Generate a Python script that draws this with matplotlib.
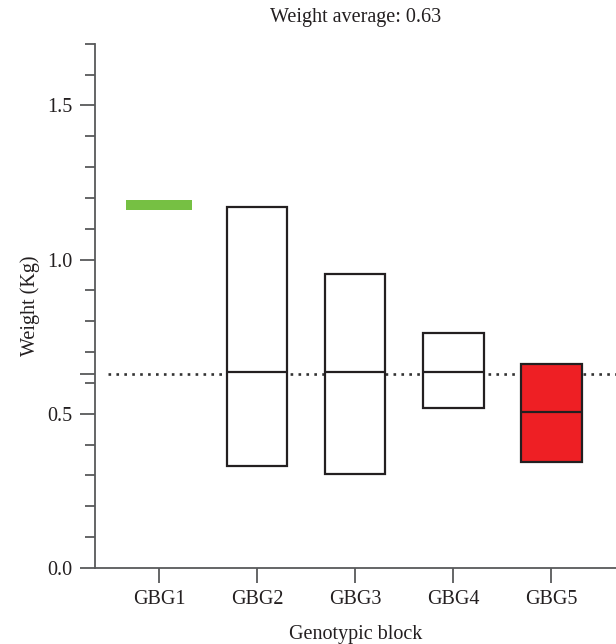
import numpy as np
import matplotlib
matplotlib.use("Agg")
import matplotlib.pyplot as plt
from matplotlib.ticker import MultipleLocator, FixedLocator, FixedFormatter

# Weight range per genotypic block (Kg)
blocks = ["GBG1", "GBG2", "GBG3", "GBG4", "GBG5"]
low = [1.160, 0.330, 0.305, 0.520, 0.345]
high = [1.195, 1.172, 0.955, 0.762, 0.662]
middle = [1.178, 0.635, 0.635, 0.635, 0.505]
weight_average = 0.63

face_colors = ["#76c043", "white", "white", "white", "#ee1f24"]
edge_colors = ["none", "#231f20", "#231f20", "#231f20", "#231f20"]
mid_colors = ["#76c043", "#231f20", "#231f20", "#231f20", "#231f20"]
widths = [0.67, 0.62, 0.62, 0.62, 0.62]

plt.rcParams["font.family"] = ["Liberation Serif", "DejaVu Serif"]
text_color = "#231f20"
spine_color = "#58595b"

fig = plt.figure(figsize=(6.16, 6.44), dpi=100)
ax = fig.add_axes([0.154, 0.118, 0.846, 0.814])

x = np.arange(1, len(blocks) + 1)
lows = np.array(low)
highs = np.array(high)

ax.bar(x, highs - lows, bottom=lows, width=widths, color=face_colors,
       edgecolor=edge_colors, linewidth=1.6, zorder=3)
for xi, m, w, c in zip(x, middle, widths, mid_colors):
    ax.hlines(m, xi - w / 2, xi + w / 2, color=c, linewidth=1.6, zorder=4)

ax.axhline(weight_average, xmin=0.025, xmax=1.0, color="#333333",
           linewidth=1.9, linestyle=(0, (1, 2.0)), zorder=2)

ax.set_xlim(0.347, 5.66)
ax.set_ylim(0, 1.7)

ax.spines["top"].set_visible(False)
ax.spines["right"].set_visible(False)
for s in ("left", "bottom"):
    ax.spines[s].set_color(spine_color)
    ax.spines[s].set_linewidth(1.3)

ax.set_xticks(x)
ax.set_xticklabels(blocks)

major = [0.0, 0.5, weight_average, 1.0, 1.5]
ax.yaxis.set_major_locator(FixedLocator(major))
ax.yaxis.set_major_formatter(FixedFormatter(["0.0", "0.5", "", "1.0", "1.5"]))
ax.yaxis.set_minor_locator(MultipleLocator(0.1))

ax.tick_params(axis="both", which="major", direction="out", length=11,
               width=1.3, color=spine_color, labelsize=14.5,
               labelcolor=text_color, pad=5)
ax.tick_params(axis="y", which="minor", direction="out", length=7.5,
               width=1.3, color=spine_color)

ax.set_ylabel("Weight (Kg)", fontsize=14.5, color=text_color, labelpad=5)
ax.set_xlabel("Genotypic block", fontsize=14.5, color=text_color, labelpad=11)
ax.set_title("Weight average: 0.63", fontsize=14.5, color=text_color, pad=16)

fig.savefig("out.png", dpi=100)
